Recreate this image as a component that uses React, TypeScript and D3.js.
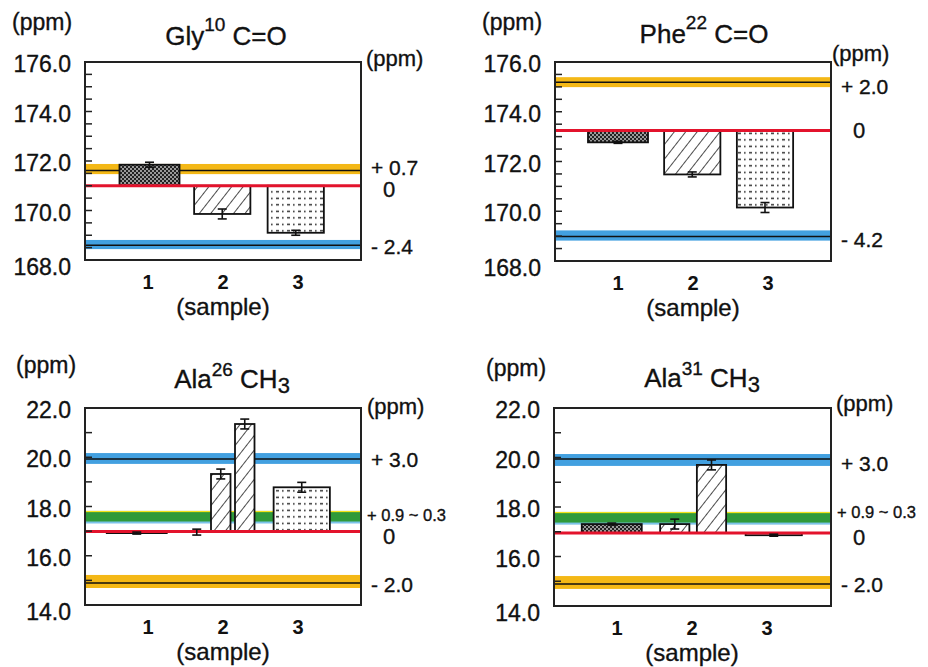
import React from 'react';
import * as d3 from 'd3';

type Kind = 'check' | 'hatch' | 'dots' | 'none';
type Bar = { pos: number; value: number; err: number; kind: Kind; narrow?: boolean };
type Band = { color: 'yellow' | 'blue' | 'green'; lo: number; hi: number; line: number | null };
type Lab = { text: string; at: number; small?: boolean; zero?: boolean };

const sampleLabels = [1, 2, 3];

// Gly10 C=O
const glyTicks = [176, 174, 172, 170, 168];
const glyRef = 171.0;
const glyBars: Bar[] = [
  { pos: 1.02, value: 171.85, err: 0.1, kind: 'check' },
  { pos: 1.99, value: 169.86, err: 0.2, kind: 'hatch' },
  { pos: 2.97, value: 169.1, err: 0.1, kind: 'dots' },
];
const glyBands: Band[] = [
  { color: 'yellow', lo: 171.47, hi: 171.88, line: 171.62 },
  { color: 'blue', lo: 168.44, hi: 168.81, line: 168.6 },
];
const glyLabels: Lab[] = [
  { text: '+ 0.7', at: 171.75 },
  { text: '0', at: 170.85, zero: true },
  { text: '- 2.4', at: 168.55 },
];

// Phe22 C=O
const pheTicks = [176, 174, 172, 170, 168];
const pheRef = 173.25;
const pheBars: Bar[] = [
  { pos: 1.0, value: 172.77, err: 0.04, kind: 'check' },
  { pos: 1.99, value: 171.48, err: 0.1, kind: 'hatch' },
  { pos: 2.96, value: 170.15, err: 0.2, kind: 'dots' },
];
const pheBands: Band[] = [
  { color: 'yellow', lo: 174.99, hi: 175.39, line: 175.19 },
  { color: 'blue', lo: 168.82, hi: 169.23, line: 168.98 },
];
const pheLabels: Lab[] = [
  { text: '+ 2.0', at: 175.03 },
  { text: '0', at: 173.26, zero: true },
  { text: '- 4.2', at: 168.9 },
];

// Ala26 CH3
const ala26Ticks = [22, 20, 18, 16, 14];
const ala26Ref = 16.98;
const ala26Bars: Bar[] = [
  { pos: 0.85, value: 16.92, err: 0.04, kind: 'check' },
  { pos: 1.65, value: 16.96, err: 0.12, kind: 'none' },
  { pos: 1.97, value: 19.32, err: 0.2, kind: 'hatch', narrow: true },
  { pos: 2.29, value: 21.35, err: 0.2, kind: 'hatch', narrow: true },
  { pos: 3.05, value: 18.78, err: 0.2, kind: 'dots' },
];
const ala26Bands: Band[] = [
  { color: 'blue', lo: 19.73, hi: 20.17, line: 19.93 },
  { color: 'green', lo: 17.33, hi: 17.82, line: null },
  { color: 'yellow', lo: 14.69, hi: 15.22, line: 14.89 },
];
const ala26Labels: Lab[] = [
  { text: '+ 3.0', at: 19.93 },
  { text: '+ 0.9 ~ 0.3', at: 17.65, small: true },
  { text: '0', at: 16.8, zero: true },
  { text: '- 2.0', at: 14.85 },
];

// Ala31 CH3
const ala31Ticks = [22, 20, 18, 16, 14];
const ala31Ref = 16.95;
const ala31Bars: Bar[] = [
  { pos: 0.93, value: 17.31, err: 0.04, kind: 'check' },
  { pos: 1.77, value: 17.31, err: 0.2, kind: 'hatch', narrow: true },
  { pos: 2.26, value: 19.7, err: 0.2, kind: 'hatch', narrow: true },
  { pos: 3.09, value: 16.86, err: 0.04, kind: 'dots' },
];
const ala31Bands: Band[] = [
  { color: 'blue', lo: 19.66, hi: 20.14, line: 19.94 },
  { color: 'green', lo: 17.31, hi: 17.8, line: null },
  { color: 'yellow', lo: 14.69, hi: 15.21, line: 14.89 },
];
const ala31Labels: Lab[] = [
  { text: '+ 3.0', at: 19.78 },
  { text: '+ 0.9 ~ 0.3', at: 17.8, small: true },
  { text: '0', at: 16.8, zero: true },
  { text: '- 2.0', at: 14.89 },
];

const FONT = '"Liberation Sans", Arial, Helvetica, sans-serif';
const bandColors: Record<string, string> = {
  yellow: '#f4b816',
  blue: '#42a0e0',
  green: '#2f9a3a',
};

interface PanelDef {
  title: [string, string, string, string];
  ticks: number[];
  minorStep: number;
  ref: number;
  bars: Bar[];
  bands: Band[];
  labels: Lab[];
  layout: {
    x0: number; y0: number; w: number; h: number;
    titleX: number; titleY: number;
    leftPpm: [number, number]; rightPpm: [number, number];
    narrow: number; supDy: number; subDy: number;
  };
}

const panels: PanelDef[] = [
  {
    title: ['Gly', '10', ' C=O', ''], ticks: glyTicks, minorStep: 0.5, ref: glyRef,
    bars: glyBars, bands: glyBands, labels: glyLabels,
    layout: { x0: 85, y0: 62, w: 276, h: 198, titleX: 226, titleY: 45, leftPpm: [12, 30], rightPpm: [366, 66], narrow: 0.26, supDy: -14, subDy: 0 },
  },
  {
    title: ['Phe', '22', ' C=O', ''], ticks: pheTicks, minorStep: 0.5, ref: pheRef,
    bars: pheBars, bands: pheBands, labels: pheLabels,
    layout: { x0: 555, y0: 62, w: 276, h: 199, titleX: 704, titleY: 43, leftPpm: [482, 30], rightPpm: [832, 61], narrow: 0.26, supDy: -14, subDy: 0 },
  },
  {
    title: ['Ala', '26', ' CH', '3'], ticks: ala26Ticks, minorStep: 1, ref: ala26Ref,
    bars: ala26Bars, bands: ala26Bands, labels: ala26Labels,
    layout: { x0: 85, y0: 408, w: 276, h: 197, titleX: 232, titleY: 388, leftPpm: [16, 373], rightPpm: [367, 414], narrow: 0.26, supDy: -12, subDy: 5 },
  },
  {
    title: ['Ala', '31', ' CH', '3'], ticks: ala31Ticks, minorStep: 1, ref: ala31Ref,
    bars: ala31Bars, bands: ala31Bands, labels: ala31Labels,
    layout: { x0: 554, y0: 408, w: 277, h: 198, titleX: 702, titleY: 387, leftPpm: [486, 376], rightPpm: [836, 411], narrow: 0.39, supDy: -12, subDy: 5 },
  },
];

const fillFor = (k: Kind) =>
  k === 'check' ? 'url(#pCheck)' : k === 'hatch' ? 'url(#pHatch)' : k === 'dots' ? 'url(#pDots)' : 'none';

const TXT = { fill: '#111', stroke: '#111', strokeWidth: 0.35 };

function Panel({ p }: { p: PanelDef }) {
  const L = p.layout;
  const top = d3.max(p.ticks)!;
  const bot = d3.min(p.ticks)!;
  const y = d3.scaleLinear().domain([bot, top]).range([L.y0 + L.h, L.y0]);
  const x = d3.scaleLinear().domain([1, 3]).range([L.x0 + 63, L.x0 + 213]);
  const unit = x(2) - x(1);
  const minors = d3.range(bot + p.minorStep, top - 1e-6, p.minorStep);
  const right = L.x0 + L.w;

  return (
    <g>
      <rect x={L.x0} y={L.y0} width={L.w} height={L.h} fill="#fff" />
      {p.bands.map((b, i) => (
        <g key={'b' + i}>
          <rect x={L.x0} y={y(b.hi)} width={L.w} height={y(b.lo) - y(b.hi)} fill={bandColors[b.color]} />
          {b.color === 'green' && (
            <>
              <rect x={L.x0} y={y(b.hi)} width={L.w} height={1.2} fill="#f3e21a" />
              <rect x={L.x0} y={y(b.lo) - 1.5} width={L.w} height={2} fill="#7cc3ea" />
            </>
          )}
          {b.line !== null && (
            <line x1={L.x0} x2={right} y1={y(b.line)} y2={y(b.line)} stroke="#111" strokeWidth={1.5} />
          )}
        </g>
      ))}
      {p.bars.map((b, i) => {
        if (b.kind === 'none') return null;
        const w = (b.narrow ? L.narrow : b.kind === 'check' ? 0.8 : 0.75) * unit;
        const y1 = Math.min(y(b.value), y(p.ref));
        const y2 = Math.max(y(b.value), y(p.ref));
        return (
          <rect key={'r' + i} x={x(b.pos) - w / 2} y={y1} width={w} height={Math.max(y2 - y1, 1)}
            fill={fillFor(b.kind)} stroke="#111" strokeWidth={1.8} />
        );
      })}
      <line x1={L.x0} x2={right} y1={y(p.ref)} y2={y(p.ref)} stroke="#e3132c" strokeWidth={3} />
      {p.bars.map((b, i) => {
        const cx = x(b.pos);
        const ya = y(b.value + b.err);
        const yb = y(b.value - b.err);
        return (
          <g key={'e' + i} stroke="#111" strokeWidth={1.6}>
            <line x1={cx} x2={cx} y1={ya} y2={yb} />
            <line x1={cx - 4.5} x2={cx + 4.5} y1={ya} y2={ya} />
            <line x1={cx - 4.5} x2={cx + 4.5} y1={yb} y2={yb} />
          </g>
        );
      })}
      <rect x={L.x0} y={L.y0} width={L.w} height={L.h} fill="none" stroke="#222" strokeWidth={2} />
      {minors.map((v, i) => (
        <line key={'t' + i} x1={L.x0} x2={L.x0 + 7} y1={y(v)} y2={y(v)} stroke="#222" strokeWidth={1.5} />
      ))}
      {p.ticks.map((v, i) => (
        <text key={'yl' + i} x={L.x0 - 14} y={y(v) + 10 + (v === bot ? 5 : 0)} textAnchor="end" fontSize={23} {...TXT}>
          {v.toFixed(1)}
        </text>
      ))}
      <text x={L.leftPpm[0]} y={L.leftPpm[1]} fontSize={23} {...TXT}>(ppm)</text>
      <text x={L.rightPpm[0]} y={L.rightPpm[1]} fontSize={22} {...TXT}>(ppm)</text>
      <text x={L.titleX} y={L.titleY} textAnchor="middle" fontSize={26} {...TXT}>
        {p.title[0]}
        <tspan fontSize={19} dy={L.supDy}>{p.title[1]}</tspan>
        <tspan fontSize={26} dy={-L.supDy}>{p.title[2]}</tspan>
        {p.title[3] && <tspan fontSize={22} dy={L.subDy}>{p.title[3]}</tspan>}
      </text>
      {p.labels.map((l, i) => (
        <text key={'bl' + i}
          x={l.zero ? right + 28 : l.small ? right + 6 : right + 10}
          y={y(l.at) + (l.small ? 6 : 8)}
          textAnchor={l.zero ? 'middle' : 'start'}
          fontSize={l.zero ? 22 : l.small ? 16.5 : 21} {...TXT}>
          {l.text}
        </text>
      ))}
      {sampleLabels.map((s) => (
        <text key={'s' + s} x={x(s)} y={L.y0 + L.h + 29} textAnchor="middle" fontSize={20} fontWeight="bold" fill="#111">
          {s}
        </text>
      ))}
      <text x={x(2)} y={L.y0 + L.h + 55} textAnchor="middle" fontSize={24} {...TXT}>(sample)</text>
    </g>
  );
}

export default function App() {
  return (
    <svg width={928} height={667} style={{ position: 'absolute', left: 0, top: 0, fontFamily: FONT, background: '#fff' }}>
      <defs>
        <pattern id="pCheck" patternUnits="userSpaceOnUse" width={4} height={4}>
          <rect width={4} height={4} fill="#9a9a9a" />
          <rect width={2} height={2} fill="#222" />
          <rect x={2} y={2} width={2} height={2} fill="#222" />
        </pattern>
        <pattern id="pHatch" patternUnits="userSpaceOnUse" width={9} height={9} patternTransform="rotate(38)">
          <rect width={9} height={9} fill="#fff" />
          <line x1={0} y1={0} x2={0} y2={9} stroke="#111" strokeWidth={1.5} />
        </pattern>
        <pattern id="pDots" patternUnits="userSpaceOnUse" width={11} height={6.5}>
          <rect width={11} height={6.5} fill="#fff" />
          <rect x={1} y={2.6} width={3} height={1.4} fill="#222" />
          <rect x={7} y={2.6} width={1.6} height={1.6} fill="#333" />
        </pattern>
      </defs>
      <rect width={928} height={667} fill="#fff" />
      {panels.map((p, i) => (
        <Panel key={i} p={p} />
      ))}
    </svg>
  );
}
